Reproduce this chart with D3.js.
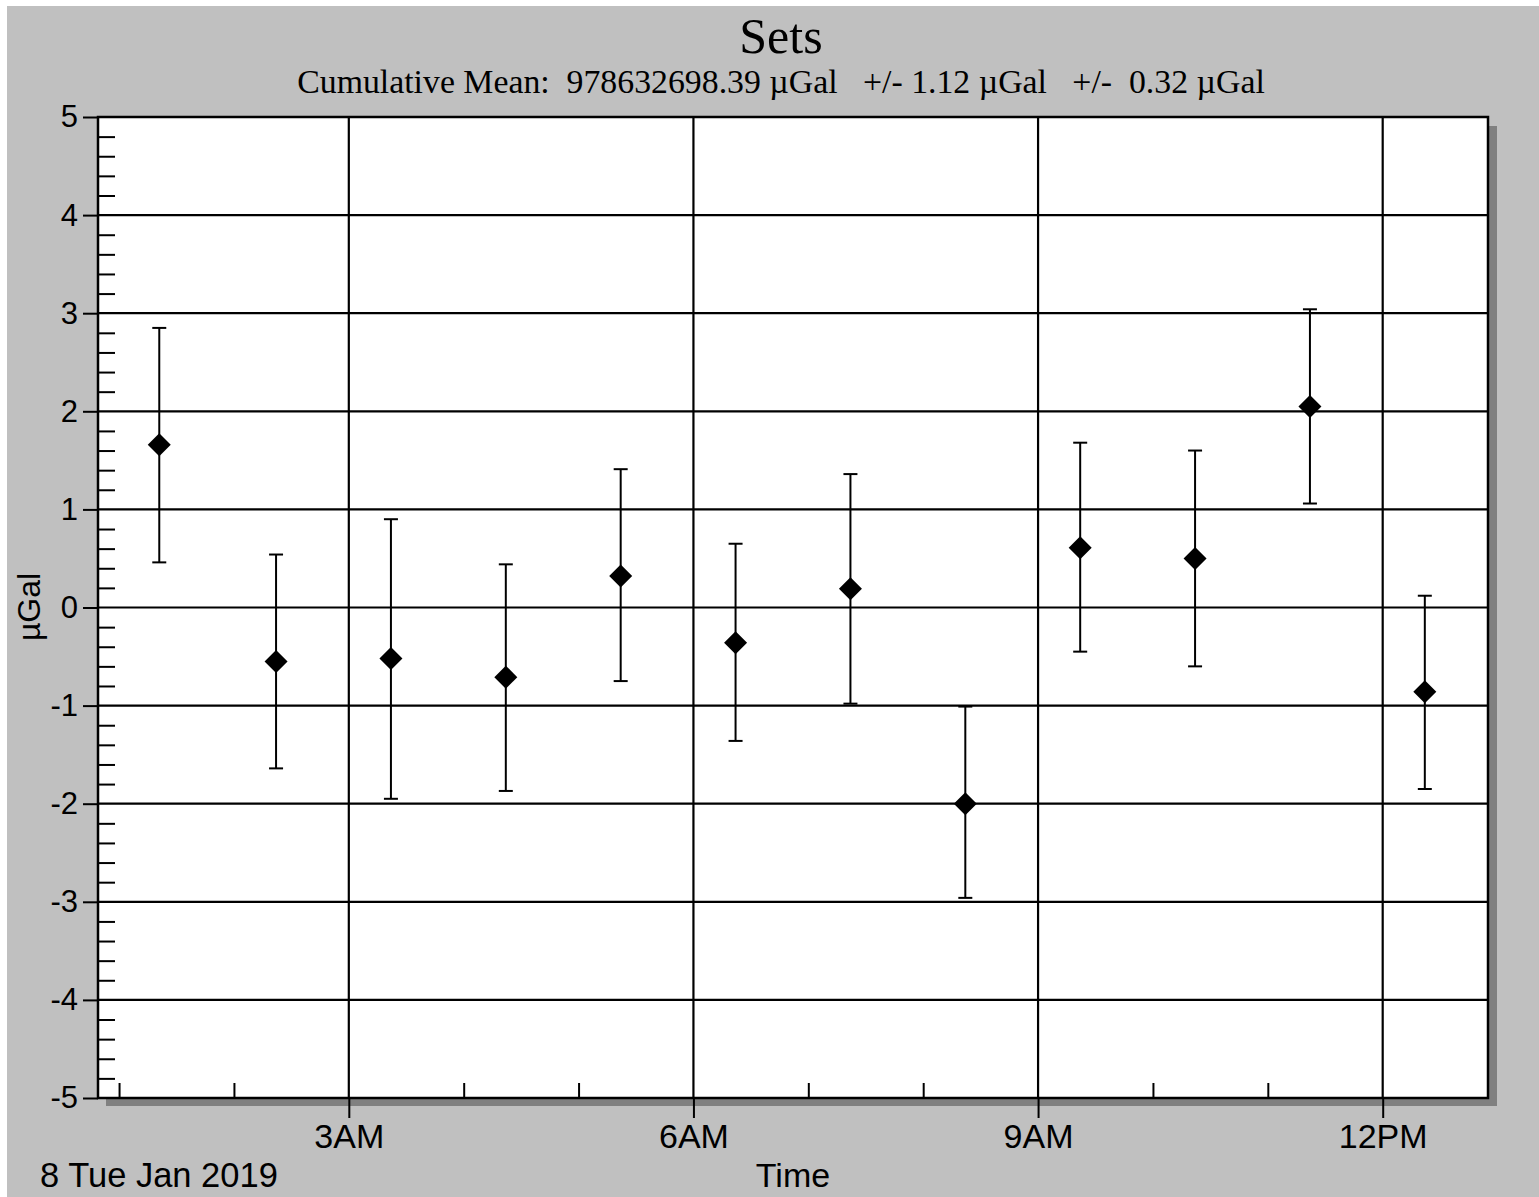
<!DOCTYPE html>
<html>
<head>
<meta charset="utf-8">
<script src="https://cdn.jsdelivr.net/npm/d3@7"></script>
<style>
  body { margin: 0; background: #fff; }
  text { white-space: pre; }
</style>
</head>
<body>
<svg id="chart"></svg>
<script>
// set times (Tue 8 Jan 2019, local time)
const setTimes = ["01:21", "02:22", "03:22", "04:22", "05:22", "06:22",
                  "07:22", "08:22", "09:22", "10:22", "11:22", "12:22"];
// mean of each set (µGal, relative to cumulative mean)
const setValues = [1.66, -0.55, -0.52, -0.71, 0.32, -0.36, 0.19, -2.00, 0.61, 0.50, 2.05, -0.86];
// error bar ends
const errTop    = [2.85, 0.54, 0.90, 0.44, 1.41, 0.65, 1.36, -1.01, 1.68, 1.60, 3.04, 0.12];
const errBottom = [0.46, -1.64, -1.95, -1.87, -0.75, -1.36, -0.98, -2.96, -0.45, -0.60, 1.06, -1.85];

const majorHours = [3, 6, 9, 12];
const minorHours = [1, 2, 4, 5, 7, 8, 10, 11];
const yTicks = d3.range(-5, 6);
const yMinor = d3.range(-50, 51, 2).map(d => d / 10).filter(d => !Number.isInteger(d));

const titleText = "Sets";
const subtitleText = "Cumulative Mean:  978632698.39 \u00b5Gal   +/- 1.12 \u00b5Gal   +/-  0.32 \u00b5Gal";
const dateLabel = "8 Tue Jan 2019";

const W = 1539, H = 1197;
const margin = { top: 117, left: 98, right: 51, bottom: 99 };
const width = W - margin.left - margin.right;
const height = H - margin.top - margin.bottom;

const day = (hh, mm) => new Date(2019, 0, 8, hh, mm);
const parseT = s => { const p = s.split(":"); return day(+p[0], +p[1]); };

const data = setTimes.map((t, i) => ({
    t: parseT(t), v: setValues[i], hi: errTop[i], lo: errBottom[i]
}));

const svg = d3.select("#chart").attr("width", W).attr("height", H);

svg.append("rect").attr("x", 7).attr("y", 6)
    .attr("width", W - 7).attr("height", H - 6).attr("fill", "#c0c0c0");

const x = d3.scaleTime().domain([day(0, 49), day(12, 55)]).range([0, width]);
const y = d3.scaleLinear().domain([-5, 5]).range([height, 0]);

const g = svg.append("g").attr("transform", `translate(${margin.left},${margin.top})`);

// shadow + plot area
g.append("rect").attr("x", 8).attr("y", 9).attr("width", width + 1).attr("height", height - 1)
    .attr("fill", "#808080");
g.append("rect").attr("width", width).attr("height", height).attr("fill", "#fff");

// grid
g.append("g").selectAll("line").data(yTicks.filter(d => d > -5 && d < 5)).join("line")
    .attr("x1", 0).attr("x2", width)
    .attr("y1", d => y(d)).attr("y2", d => y(d))
    .attr("stroke", "#000").attr("stroke-width", 2.2);
g.append("g").selectAll("line").data(majorHours).join("line")
    .attr("x1", d => x(day(d, 0))).attr("x2", d => x(day(d, 0)))
    .attr("y1", 0).attr("y2", height)
    .attr("stroke", "#000").attr("stroke-width", 2.2);

// frame
g.append("rect").attr("width", width).attr("height", height)
    .attr("fill", "none").attr("stroke", "#000").attr("stroke-width", 2.5);

// y axis
const yAxis = g.append("g")
    .call(d3.axisLeft(y).tickValues(yTicks).tickSize(15).tickPadding(5).tickFormat(d => String(d)));
yAxis.select(".domain").remove();
yAxis.selectAll("line").attr("stroke-width", 2);
yAxis.selectAll("text").attr("font-family", "Liberation Sans, Arial, sans-serif")
    .attr("font-size", 31).attr("fill", "#000");

const yMinorAxis = g.append("g")
    .call(d3.axisRight(y).tickValues(yMinor).tickSize(17).tickFormat(""));
yMinorAxis.select(".domain").remove();
yMinorAxis.selectAll("line").attr("stroke-width", 2);

// x axis
const xAxis = g.append("g").attr("transform", `translate(0,${height})`)
    .call(d3.axisBottom(x).tickValues(majorHours.map(h => day(h, 0))).tickSize(20).tickPadding(6)
        .tickFormat(d3.timeFormat("%-I%p")));
xAxis.select(".domain").remove();
xAxis.selectAll("line").attr("stroke-width", 2);
xAxis.selectAll("text").attr("font-family", "Liberation Sans, Arial, sans-serif")
    .attr("font-size", 34).attr("fill", "#000");

const xMinorAxis = g.append("g").attr("transform", `translate(0,${height})`)
    .call(d3.axisTop(x).tickValues(minorHours.map(h => day(h, 0))).tickSize(15).tickFormat(""));
xMinorAxis.select(".domain").remove();
xMinorAxis.selectAll("line").attr("stroke-width", 2);

// error bars
const bars = g.append("g").selectAll("g").data(data).join("g")
    .attr("stroke", "#000").attr("stroke-width", 2);
bars.append("line")
    .attr("x1", d => x(d.t)).attr("x2", d => x(d.t))
    .attr("y1", d => y(d.hi)).attr("y2", d => y(d.lo));
bars.append("line")
    .attr("x1", d => x(d.t) - 7).attr("x2", d => x(d.t) + 7)
    .attr("y1", d => y(d.hi)).attr("y2", d => y(d.hi));
bars.append("line")
    .attr("x1", d => x(d.t) - 7).attr("x2", d => x(d.t) + 7)
    .attr("y1", d => y(d.lo)).attr("y2", d => y(d.lo));

// diamond markers
g.append("g").selectAll("path").data(data).join("path")
    .attr("transform", d => `translate(${x(d.t)},${y(d.v)})`)
    .attr("d", "M0,-11.5L11.5,0L0,11.5L-11.5,0Z")
    .attr("fill", "#000");

// titles and labels
svg.append("text").attr("x", 781).attr("y", 53).attr("text-anchor", "middle")
    .attr("font-family", "Liberation Serif, Times New Roman, serif").attr("font-size", 50)
    .text(titleText);
svg.append("text").attr("x", 781).attr("y", 93).attr("text-anchor", "middle")
    .attr("font-family", "Liberation Serif, Times New Roman, serif").attr("font-size", 33.8)
    .text(subtitleText);

svg.append("text").attr("transform", "translate(40,607) rotate(-90)").attr("text-anchor", "middle")
    .attr("font-family", "Liberation Sans, Arial, sans-serif").attr("font-size", 32)
    .text("\u00b5Gal");

svg.append("text").attr("x", 793).attr("y", 1187).attr("text-anchor", "middle")
    .attr("font-family", "Liberation Sans, Arial, sans-serif").attr("font-size", 34)
    .text("Time");
svg.append("text").attr("x", 40).attr("y", 1187)
    .attr("font-family", "Liberation Sans, Arial, sans-serif").attr("font-size", 34.5)
    .text(dateLabel);
</script>
</body>
</html>
